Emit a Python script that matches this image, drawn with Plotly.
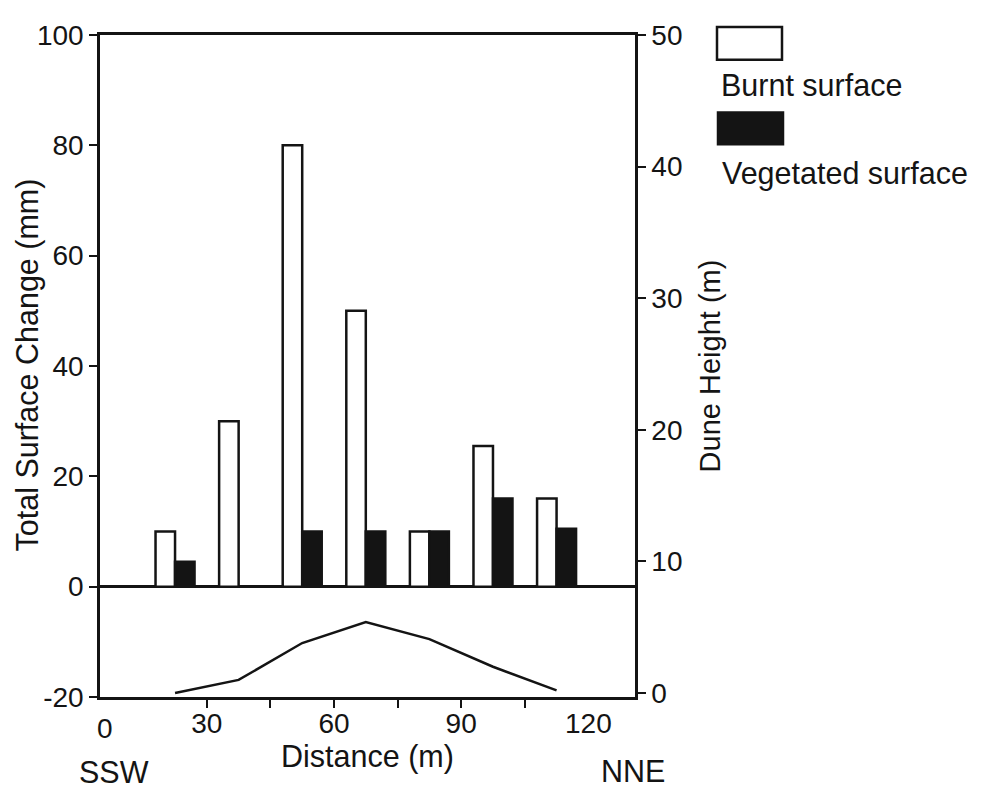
import plotly.graph_objects as go

# ---- data ----
distance_m = [22.5, 37.5, 52.5, 67.5, 82.5, 97.5, 112.5]
burnt_mm = [10, 30, 80, 50, 10, 25.5, 16]
vegetated_mm = [4.5, None, 10, 10, 10, 16, 10.5]
dune_height_m = [0, 1.0, 3.8, 5.4, 4.1, 2.0, 0.2]

x_tick_vals = [30, 60, 90, 120]
x_minor_ticks = [30, 45, 60, 75, 90, 105]
left_ticks = [-20, 0, 20, 40, 60, 80, 100]
left_tick_text = ["-20", "0", "20", "40", "60", "80", "100"]
right_ticks = [0, 10, 20, 30, 40, 50]

FONT = "Liberation Sans, Arial, Helvetica, sans-serif"
INK = "#141414"
BAR_W = 4.6

fig = go.Figure()
fig.add_trace(go.Bar(
    x=distance_m, y=burnt_mm, name="Burnt surface",
    width=BAR_W, offset=-BAR_W,
    marker=dict(color="white", line=dict(color=INK, width=2.5)),
    showlegend=False,
))
fig.add_trace(go.Bar(
    x=distance_m, y=vegetated_mm, name="Vegetated surface",
    width=BAR_W, offset=0,
    marker=dict(color=INK, line=dict(color=INK, width=2.5)),
    showlegend=False,
))
fig.add_trace(go.Scatter(
    x=distance_m, y=dune_height_m, yaxis="y2", mode="lines",
    line=dict(color=INK, width=2.5), name="Dune height", showlegend=False,
))

axis_common = dict(showgrid=False, showline=True, linecolor=INK, linewidth=2.5,
                   tickcolor=INK, tickwidth=2, ticklen=8,
                   tickfont=dict(family=FONT, size=28, color=INK))

# the page adds an 8px body margin, so the figure is 8px smaller and margins shifted
fig.update_layout(
    width=983, height=781,
    margin=dict(l=92, r=356, t=22, b=92),
    paper_bgcolor="white", plot_bgcolor="white",
    font=dict(family=FONT, color=INK),
    barmode="overlay",
    xaxis=dict(
        **axis_common,
        range=[4.8, 131.0], tickvals=x_tick_vals, ticks="",
        minor=dict(tickvals=x_minor_ticks, ticks="outside", ticklen=8,
                   tickwidth=2, tickcolor=INK),
        mirror=True, zeroline=False,
        title=dict(text="Distance (m)", font=dict(family=FONT, size=30.5, color=INK),
                   standoff=1),
    ),
    yaxis=dict(
        **axis_common,
        range=[-20, 100], tickvals=left_ticks, ticktext=left_tick_text,
        ticks="outside",
        zeroline=True, zerolinecolor=INK, zerolinewidth=2.5,
    ),
    yaxis2=dict(
        **axis_common,
        overlaying="y", side="right", range=[-0.3, 50], tickvals=right_ticks,
        ticks="outside", zeroline=False,
        title=dict(text="Dune Height (m)", font=dict(family=FONT, size=29, color=INK),
                   standoff=19),
    ),
)

# positions given in page pixels of the reference (plot area x 100-635, y 30-697)
def px_x(p):
    return (p - 100) / 535.0

def px_y(p):
    return (697 - p) / 667.0

shapes = [
    dict(type="rect", xref="paper", yref="paper",
         x0=px_x(717), x1=px_x(782), y0=px_y(55), y1=px_y(22),
         fillcolor="white", line=dict(color=INK, width=2.5)),
    dict(type="rect", xref="paper", yref="paper",
         x0=px_x(718), x1=px_x(783), y0=px_y(140), y1=px_y(108),
         fillcolor=INK, line=dict(color=INK, width=2.5)),
]
annotations = [
    dict(text="Burnt surface", x=px_x(719), y=px_y(80), xanchor="left", yanchor="middle"),
    dict(text="Vegetated surface", x=px_x(720), y=px_y(170), xanchor="left", yanchor="middle"),
    dict(text="0", x=px_x(105), y=px_y(729), xanchor="center", yanchor="middle"),
    dict(text="SSW", x=px_x(114), y=px_y(773), xanchor="center", yanchor="middle"),
    dict(text="NNE", x=px_x(633), y=px_y(772), xanchor="center", yanchor="middle"),
    dict(text="Total Surface Change (mm)", x=px_x(28), y=px_y(363),
         xanchor="center", yanchor="middle", textangle=-90),
]
for a in annotations:
    a.update(xref="paper", yref="paper", showarrow=False,
             font=dict(family=FONT, size=30.5, color=INK))
    if a["text"] == "0":
        a["font"] = dict(family=FONT, size=28, color=INK)

fig.update_layout(shapes=shapes, annotations=annotations)
fig.write_html("out.html")
